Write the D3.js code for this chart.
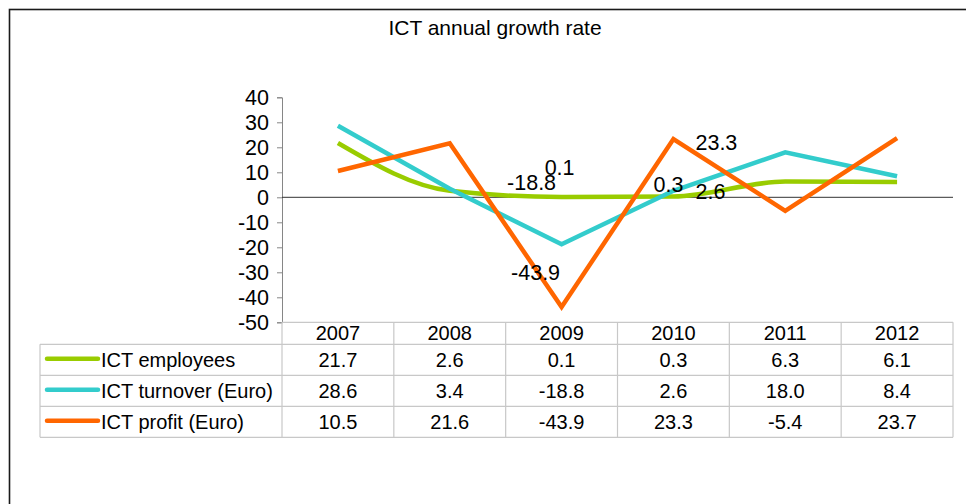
<!DOCTYPE html>
<html>
<head>
<meta charset="utf-8">
<script src="https://cdn.jsdelivr.net/npm/d3@7"></script>
<style>
  body { margin: 0; background: #fff; }
  svg { display: block; font-family: "Liberation Sans", Arial, sans-serif; }
</style>
</head>
<body>
<svg id="chart" width="966" height="504"></svg>
<script>
// data
var years = ["2007", "2008", "2009", "2010", "2011", "2012"];
var seriesNames = ["ICT employees", "ICT turnover (Euro)", "ICT profit (Euro)"];
var employees = [21.7, 2.6, 0.1, 0.3, 6.3, 6.1];
var turnover = [28.6, 3.4, -18.8, 2.6, 18.0, 8.4];
var profit = [10.5, 21.6, -43.9, 23.3, -5.4, 23.7];
var yTicks = [40, 30, 20, 10, 0, -10, -20, -30, -40, -50];
var colors = ["#99cc00", "#33cccc", "#ff6600"];

var series = [employees, turnover, profit];

// which points carry a label (series index, year index) and where it sits
var labelSpots = [
  {s: 0, i: 2, dx: -2, dy: -30},
  {s: 1, i: 2, dx: -30, dy: -62},
  {s: 2, i: 2, dx: -26, dy: -35},
  {s: 0, i: 3, dx: -5, dy: -12},
  {s: 1, i: 3, dx: 37, dy: 1},
  {s: 2, i: 3, dx: 43, dy: 3}
];

// plain hyphen for negatives, like the original
function fmt1(v) { return v.toFixed(1); }

var svg = d3.select("#chart");

// outer frame (right and bottom run off the picture)
svg.append("rect").attr("x", 9.5).attr("y", 9.5).attr("width", 1000).attr("height", 600)
  .style("fill", "none").style("stroke", "#1a1a1a").style("stroke-width", 1.6);

svg.append("text").attr("x", 495).attr("y", 35).style("text-anchor", "middle")
  .style("font-size", "21px").style("fill", "#000").text("ICT annual growth rate");

var plotLeft = 282, plotRight = 953, plotTop = 97.3, plotBottom = 322.3;

var x = d3.scaleBand().domain(years).range([plotLeft, plotRight]);
var y = d3.scaleLinear().domain([-50, 40]).range([plotBottom, plotTop]);

// y axis
var yAxis = svg.append("g").attr("transform", "translate(" + plotLeft + ",0)")
  .call(d3.axisLeft(y).tickValues(yTicks).tickSize(5).tickPadding(8).tickFormat(function(d) { return String(d); }));
yAxis.select(".domain").style("stroke", "#868686");
yAxis.selectAll(".tick line").style("stroke", "#868686");
yAxis.selectAll(".tick text").style("font-size", "21.5px").style("font-family", "Liberation Sans, Arial, sans-serif")
  .style("fill", "#000");

// zero line
svg.append("line").attr("x1", plotLeft).attr("x2", plotRight).attr("y1", y(0)).attr("y2", y(0))
  .style("stroke", "#333").style("stroke-width", 1);

// data table
var tableLeft = 40;
var headerBottom = 344.3;
var rowH = 31;
var tableBottom = headerBottom + rowH * 3;
var grid = svg.append("g").style("stroke", "#c8c8c8").style("stroke-width", 1.2);

grid.append("line").attr("x1", plotLeft).attr("x2", plotRight).attr("y1", plotBottom).attr("y2", plotBottom);
d3.range(4).forEach(function(r) {
  var yy = headerBottom + r * rowH;
  grid.append("line").attr("x1", tableLeft).attr("x2", plotRight).attr("y1", yy).attr("y2", yy);
});
grid.append("line").attr("x1", tableLeft).attr("x2", tableLeft).attr("y1", headerBottom).attr("y2", tableBottom);
years.forEach(function(yr) {
  grid.append("line").attr("x1", x(yr)).attr("x2", x(yr)).attr("y1", plotBottom).attr("y2", tableBottom);
});
grid.append("line").attr("x1", plotRight).attr("x2", plotRight).attr("y1", plotBottom).attr("y2", tableBottom);

var tableText = svg.append("g").style("font-size", "20px").style("fill", "#000");
tableText.selectAll(".hdr").data(years).enter().append("text")
  .attr("x", function(d) { return x(d) + x.bandwidth() / 2; })
  .attr("y", headerBottom - 4).style("text-anchor", "middle").text(function(d) { return d; });

series.forEach(function(vals, s) {
  var cy = headerBottom + rowH * s + rowH / 2;
  svg.append("line").attr("x1", 47).attr("x2", 98).attr("y1", cy - 1).attr("y2", cy - 1)
    .style("stroke", colors[s]).style("stroke-width", 4.5).style("stroke-linecap", "round");
  tableText.append("text").attr("x", 101).attr("y", cy + 7).text(seriesNames[s]);
  tableText.selectAll(".v" + s).data(vals).enter().append("text")
    .attr("x", function(d, i) { return x(years[i]) + x.bandwidth() / 2; })
    .attr("y", cy + 7).style("text-anchor", "middle")
    .text(fmt1);
});

// lines
var lineStraight = d3.line()
  .x(function(d, i) { return x(years[i]) + x.bandwidth() / 2; })
  .y(function(d) { return y(d); });
var lineSmooth = d3.line()
  .x(function(d, i) { return x(years[i]) + x.bandwidth() / 2; })
  .y(function(d) { return y(d); })
  .curve(d3.curveMonotoneX);

series.forEach(function(vals, s) {
  svg.append("path").datum(vals)
    .attr("d", s === 0 ? lineSmooth : lineStraight)
    .style("fill", "none").style("stroke", colors[s]).style("stroke-width", 4.5)
    .style("stroke-linejoin", "miter");
});

// data labels
svg.append("g").selectAll("text").data(labelSpots).enter().append("text")
  .attr("x", function(d) { return x(years[d.i]) + x.bandwidth() / 2 + d.dx; })
  .attr("y", function(d) { return y(series[d.s][d.i]) + d.dy; })
  .attr("dy", "0.35em")
  .style("text-anchor", "middle").style("font-size", "21.5px").style("fill", "#000")
  .text(function(d) { return String(series[d.s][d.i]); });
</script>
</body>
</html>
